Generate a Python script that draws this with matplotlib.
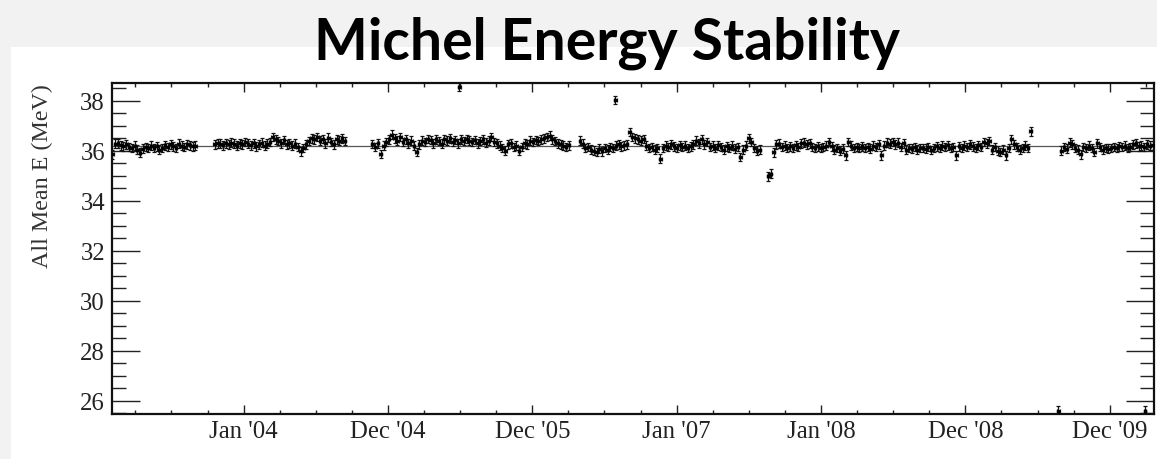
import numpy as np
import matplotlib
matplotlib.use("Agg")
import matplotlib.pyplot as plt
from matplotlib.patches import Rectangle
from matplotlib.ticker import MultipleLocator, FixedLocator

# ---------------- data ----------------
title = "Michel Energy Stability"
ylabel = "All Mean E (MeV)"
xtick_years = [2004, 2005, 2006, 2007, 2008, 2009, 2010]
xtick_labels = ["Jan '04", "Dec '04", "Dec '05", "Jan '07", "Jan '08", "Dec '08", "Dec '09"]
ytick_values = [26, 28, 30, 32, 34, 36, 38]

week0_year = 2003.091          # decimal year of week index 0
week_len = 7 / 365.25          # one weekly bin in years
reference_level = 36.2         # horizontal reference line (MeV)
energy_err = 0.17              # typical error on weekly mean (MeV)

seg1_start = 0
seg1 = [35.85, 36.28, 36.30, 36.22, 36.18, 36.25, 36.15, 36.10, 36.20, 36.05,
        35.92, 36.08, 36.15, 36.12, 36.20, 36.10, 36.18, 36.05, 36.12, 36.22,
        36.15, 36.25, 36.18, 36.10, 36.28, 36.20, 36.15, 36.25, 36.22, 36.18, 36.20]

seg2_start = 37
seg2 = [36.25, 36.30, 36.28, 36.22, 36.30, 36.25, 36.32, 36.28, 36.20, 36.30,
        36.25, 36.35, 36.28, 36.22, 36.30, 36.18, 36.25, 36.32, 36.20, 36.28,
        36.35, 36.55, 36.45, 36.38, 36.30, 36.42, 36.25, 36.30, 36.20, 36.28,
        36.15, 35.98, 36.10, 36.25, 36.38, 36.50, 36.45, 36.55, 36.40, 36.48,
        36.30, 36.52, 36.35, 36.25, 36.45, 36.40, 36.50, 36.38]

seg3_start = 94
seg3 = [36.27, 36.15, 36.30, 35.87, 36.20, 36.35, 36.45, 36.65, 36.50, 36.40,
        36.55, 36.35, 36.45, 36.30, 36.40, 36.20, 35.95, 36.25, 36.40, 36.35,
        36.48, 36.42, 36.30, 36.45, 36.38, 36.28, 36.45, 36.40, 36.50, 36.35,
        36.42, 36.30, 36.45, 36.38, 36.48, 36.40, 36.35, 36.42, 36.30, 36.38,
        36.45, 36.32, 36.40, 36.55, 36.35, 36.30, 36.20, 36.10, 36.00, 36.25,
        36.30, 36.15, 36.20, 36.00, 36.15, 36.30, 36.25, 36.40, 36.35, 36.42,
        36.38, 36.45, 36.50, 36.55, 36.60, 36.45, 36.38, 36.30, 36.25, 36.20,
        36.15, 36.22]

seg4_start = 169
seg4 = [36.40, 36.28, 36.10, 36.15, 36.05, 36.00, 35.95, 36.08, 35.98, 36.12,
        36.05, 36.15, 36.10, 36.20, 36.25, 36.18, 36.22, 36.25, 36.75, 36.55,
        36.50, 36.45, 36.40, 36.48, 36.20, 36.10, 36.15, 36.05, 36.12, 35.68,
        36.10, 36.20, 36.15, 36.25, 36.18, 36.12, 36.22, 36.15, 36.20, 36.10,
        36.18, 36.25, 36.40, 36.30, 36.45, 36.25, 36.35, 36.15, 36.20, 36.10,
        36.22, 36.15, 36.05, 36.18, 36.10, 36.20, 36.08, 36.15, 35.75, 36.05,
        36.20, 36.50, 36.35, 36.10, 36.00, 36.05]

seg5_start = 239
seg5 = [35.93, 36.25, 36.28, 36.15, 36.20, 36.10, 36.18, 36.12, 36.22, 36.15,
        36.30, 36.33, 36.25, 36.30, 36.15, 36.10, 36.18, 36.12, 36.15, 36.20,
        36.35, 36.18, 36.05, 36.10, 36.00, 36.08, 35.82, 36.35, 36.20, 36.12,
        36.15, 36.10, 36.18, 36.12, 36.15, 36.08, 36.20, 36.15, 36.25, 35.82,
        36.20, 36.32, 36.28, 36.35, 36.25, 36.33, 36.15, 36.30, 36.05, 36.12,
        36.08, 36.15, 36.05, 36.10, 36.12, 36.08, 36.15, 36.02, 36.10, 36.18,
        36.12, 36.20, 36.15, 36.22, 36.10, 36.15, 35.82, 36.18, 36.12, 36.20,
        36.15, 36.25, 36.18, 36.10, 36.22, 36.15, 36.35, 36.30, 36.38, 36.05,
        36.15, 36.00, 35.95, 36.05, 35.82, 36.10, 36.45, 36.25, 36.15, 36.05,
        36.12, 36.20, 36.10, 36.78]

seg6_start = 343
seg6 = [36.00, 36.15, 36.08, 36.33, 36.25, 36.10, 36.05, 35.85, 36.15, 36.10,
        36.20, 36.12, 35.95, 36.30, 36.15, 36.05, 36.10, 36.08, 36.12, 36.15,
        36.10, 36.18, 36.15, 36.20, 36.12, 36.15, 36.25, 36.30, 36.18, 36.20,
        36.15, 36.25, 36.20, 36.22]

# isolated off-band weekly points (decimal year, MeV)
outlier_years = [2005.494, 2006.574, 2007.634, 2007.652, 2009.645, 2010.245]
outlier_energy = [38.55, 38.02, 34.98, 35.08, 25.60, 25.60]

# ---------------- build series ----------------
segments = [(seg1_start, seg1), (seg2_start, seg2), (seg3_start, seg3),
            (seg4_start, seg4), (seg5_start, seg5), (seg6_start, seg6)]
xs, ys = [], []
for start, vals in segments:
    w = start + np.arange(len(vals))
    xs.append(week0_year + w * week_len)
    ys.append(np.asarray(vals))
x = np.concatenate(xs + [np.asarray(outlier_years)])
y = np.concatenate(ys + [np.asarray(outlier_energy)])

# ---------------- figure ----------------
W, H = 1157, 460
fig = plt.figure(figsize=(W / 100, H / 100), dpi=100, facecolor="#f2f2f2")
fig.patches.append(Rectangle((10.7 / W, 0), 1 - 10.7 / W, (H - 48) / H,
                             transform=fig.transFigure, facecolor="white",
                             edgecolor="none", zorder=-5))

ax = fig.add_axes([112 / W, 1 - 415 / H, (1154 - 112) / W, (415 - 84) / H])
ax.set_zorder(2)
ax.set_facecolor("white")

ax.axhline(reference_level, color="#555555", lw=0.9, zorder=1)
ax.errorbar(x, y, yerr=energy_err, xerr=week_len / 2, fmt="s", ms=1.8,
            color="black", ecolor="#111111", elinewidth=0.9, capsize=1.6,
            capthick=0.9, zorder=3)

ax.set_xlim(2003.088, 2010.307)
ax.set_ylim(25.47, 38.71)

serif = ["Liberation Serif", "DejaVu Serif"]
fs = 17.8
ax.xaxis.set_major_locator(FixedLocator(xtick_years))
ax.xaxis.set_minor_locator(MultipleLocator(0.25))
ax.set_xticklabels(xtick_labels, fontfamily=serif, fontsize=fs, color="#222222")
ax.yaxis.set_major_locator(FixedLocator(ytick_values))
ax.yaxis.set_minor_locator(MultipleLocator(0.5))
ax.set_yticklabels([str(v) for v in ytick_values], fontfamily=serif,
                   fontsize=fs, color="#222222")

ax.tick_params(axis="x", which="both", direction="in", top=True, bottom=True,
               width=1.0, color="#222222")
ax.tick_params(axis="x", which="major", length=6.5, pad=4.5)
ax.tick_params(axis="x", which="minor", length=3.2)
ax.tick_params(axis="y", which="both", direction="in", left=True, right=True,
               width=1.0, color="#222222")
ax.tick_params(axis="y", which="major", length=20, pad=5)
ax.tick_params(axis="y", which="minor", length=10)

for s in ax.spines.values():
    s.set_linewidth(1.6)
    s.set_color("#111111")

ax.set_ylabel(ylabel, fontfamily=serif, fontsize=17.3, color="#333333", loc="top")
ax.yaxis.set_label_coords(-0.0566, 1.0)

fig.text(607 / W, 1 - 59 / H, title, ha="center", va="baseline",
         fontfamily=["Lato", "DejaVu Sans"], fontweight="bold", fontsize=41,
         color="black", zorder=5)

fig.savefig("out.png", dpi=100, facecolor=fig.get_facecolor())
